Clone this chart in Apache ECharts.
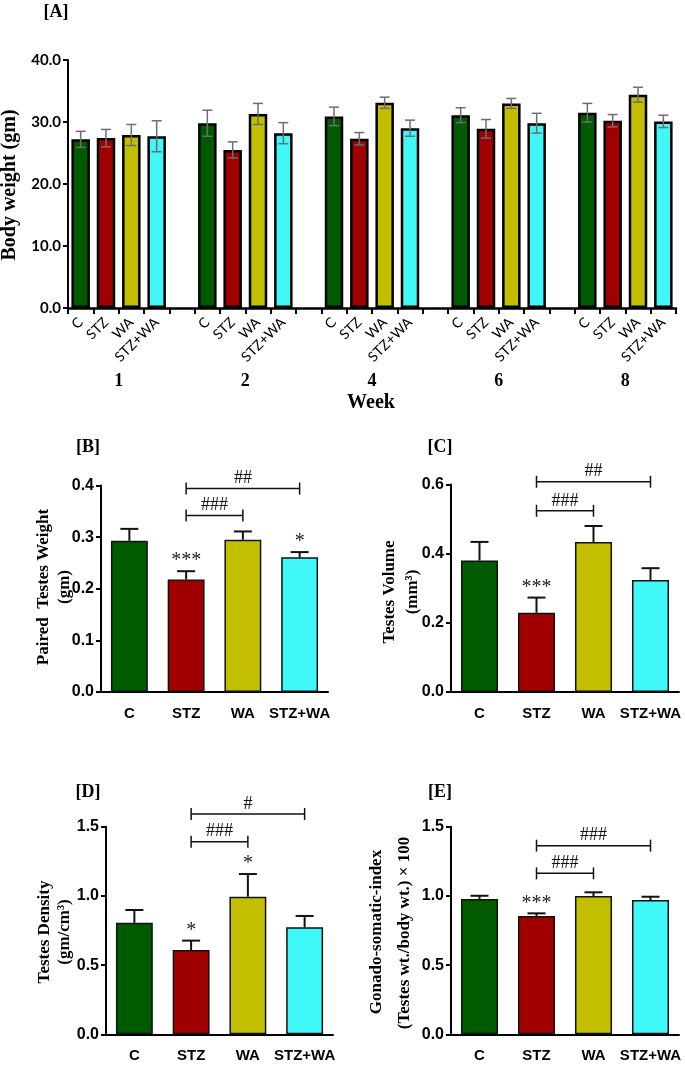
<!DOCTYPE html>
<html><head><meta charset="utf-8">
<script src="https://cdn.jsdelivr.net/npm/echarts@6.0.0/dist/echarts.min.js"></script>
<style>html,body{margin:0;padding:0;background:#fff}#chart{width:685px;height:1066px}</style>
</head><body><div id="chart"></div>
<script>
// ---------- data ----------
const weeks = ['1', '2', '4', '6', '8'];
const groups = ['C', 'STZ', 'WA', 'STZ+WA'];
const groupColors = ['#005a00', '#a00000', '#c2bf00', '#40f8f8'];

// Panel A: body weight (gm) per week
const bwC      = [27.2, 29.8, 30.9, 31.1, 31.5];
const bwSTZ    = [27.4, 25.5, 27.3, 28.9, 30.2];
const bwWA     = [27.9, 31.3, 33.1, 33.0, 34.4];
const bwSTZWA  = [27.7, 28.2, 29.0, 29.8, 30.1];
const bwErrC     = [1.3, 2.1, 1.5, 1.2, 1.5];
const bwErrSTZ   = [1.4, 1.3, 1.0, 1.5, 1.0];
const bwErrWA    = [1.7, 1.7, 0.9, 0.8, 1.2];
const bwErrSTZWA = [2.5, 1.7, 1.3, 1.6, 1.0];

// Panel B: paired testes weight (gm)
const twMean = [0.293, 0.218, 0.295, 0.261];
const twErr  = [0.023, 0.016, 0.016, 0.010];
const twSig  = ['', '***', '', '*'];
const twBrackets = [[1, 3, 0.394, '##'], [1, 2, 0.342, '###']];

// Panel C: testes volume (mm3)
const tvMean = [0.380, 0.229, 0.434, 0.324];
const tvErr  = [0.054, 0.044, 0.046, 0.034];
const tvSig  = ['', '***', '', ''];
const tvBrackets = [[1, 3, 0.608, '##'], [1, 2, 0.524, '###']];

// Panel D: testes density (gm/cm3)
const tdMean = [0.806, 0.609, 0.994, 0.773];
const tdErr  = [0.092, 0.068, 0.164, 0.082];
const tdSig  = ['', '*', '*', ''];
const tdBrackets = [[1, 3, 1.592, '#'], [1, 2, 1.392, '###']];

// Panel E: gonado-somatic index
const gsiMean = [0.978, 0.855, 0.999, 0.970];
const gsiErr  = [0.023, 0.019, 0.027, 0.024];
const gsiSig  = ['', '***', '', ''];
const gsiBrackets = [[1, 3, 1.363, '###'], [1, 2, 1.163, '###']];

// ---------- build ----------
const SERIF = '"Liberation Serif", "Times New Roman", serif';
const NARROW = '"Liberation Sans", Arial, sans-serif';
const CAL = 'Lato, Carlito, Calibri, sans-serif';

const bwMeans = [bwC, bwSTZ, bwWA, bwSTZWA];
const bwErrs = [bwErrC, bwErrSTZ, bwErrWA, bwErrSTZWA];
const slotLabels = [], barData = [], errData = [];
weeks.forEach((w, wi) => {
  groups.forEach((g, gi) => {
    const idx = slotLabels.length;
    slotLabels.push(g);
    barData.push({ value: bwMeans[gi][wi], itemStyle: { color: groupColors[gi] } });
    errData.push([idx, bwMeans[gi][wi], bwErrs[gi][wi]]);
  });
  if (wi < weeks.length - 1) { slotLabels.push(''); barData.push('-'); }
});

function errRender(color, lw, capHalf, both) {
  return function (params, api) {
    const x = api.value(0), m = api.value(1), e = api.value(2);
    const top = api.coord([x, m + e]);
    const bot = api.coord([x, both ? m - e : m]);
    const st = { stroke: color, lineWidth: lw };
    const ch = [
      { type: 'line', shape: { x1: top[0], y1: top[1], x2: bot[0], y2: bot[1] }, style: st },
      { type: 'line', shape: { x1: top[0] - capHalf, y1: top[1], x2: top[0] + capHalf, y2: top[1] }, style: st }
    ];
    if (both) ch.push({ type: 'line', shape: { x1: bot[0] - capHalf, y1: bot[1], x2: bot[0] + capHalf, y2: bot[1] }, style: st });
    return { type: 'group', children: ch };
  };
}

function bracketRender(list) {
  return function (params, api) {
    const d = list[params.dataIndex];
    const p1 = api.coord([d[0], d[2]]), p2 = api.coord([d[1], d[2]]);
    const st = { stroke: '#111', lineWidth: 1.5 };
    return {
      type: 'group', children: [
        { type: 'line', shape: { x1: p1[0], y1: p1[1], x2: p2[0], y2: p2[1] }, style: st },
        { type: 'line', shape: { x1: p1[0], y1: p1[1] - 6, x2: p1[0], y2: p1[1] + 6 }, style: st },
        { type: 'line', shape: { x1: p2[0], y1: p2[1] - 6, x2: p2[0], y2: p2[1] + 6 }, style: st },
        { type: 'text', x: (p1[0] + p2[0]) / 2, y: p1[1] - 10,
          style: { text: d[3], textAlign: 'center', textVerticalAlign: 'middle', font: '18px ' + SERIF, fill: '#111' } }
      ]
    };
  };
}

function sigRender(sig) {
  return function (params, api) {
    const i = api.value(0), top = api.value(1);
    const p = api.coord([i, top]);
    return { type: 'text', x: p[0], y: p[1] - 10,
      style: { text: sig[i], textAlign: 'center', textVerticalAlign: 'middle', font: '20px ' + SERIF, fill: '#222' } };
  };
}

const grids = [
  { left: 68, top: 60, width: 608, height: 248 },
  { left: 101, top: 485.5, width: 227, height: 206.5 },
  { left: 451, top: 484.5, width: 228, height: 207.5 },
  { left: 106, top: 826.7, width: 227, height: 207.6 },
  { left: 451, top: 826.7, width: 228, height: 207.6 }
];

function yAx(gridIndex, min, max, interval, font, size) {
  return {
    type: 'value', gridIndex, min, max, interval,
    axisLine: { show: true, lineStyle: { color: '#000', width: 2 } },
    axisTick: { show: true, length: 5, lineStyle: { color: '#000', width: 2 } },
    splitLine: { show: false },
    axisLabel: { color: '#000', margin: 7, fontFamily: font, fontWeight: 'bold', fontSize: size, formatter: v => v.toFixed(1) }
  };
}
function xCat(gridIndex) {
  return {
    type: 'category', gridIndex, data: groups,
    axisLine: { lineStyle: { color: '#000', width: 2 } },
    axisTick: { show: false },
    axisLabel: { interval: 0, color: '#000', fontWeight: 'bold', fontSize: 15, fontFamily: NARROW, margin: 14 }
  };
}

const panels = [
  { mean: twMean, err: twErr, sig: twSig, br: twBrackets },
  { mean: tvMean, err: tvErr, sig: tvSig, br: tvBrackets },
  { mean: tdMean, err: tdErr, sig: tdSig, br: tdBrackets },
  { mean: gsiMean, err: gsiErr, sig: gsiSig, br: gsiBrackets }
];

const series = [
  { type: 'bar', xAxisIndex: 0, yAxisIndex: 0, data: barData, barWidth: '73%',
    itemStyle: { borderColor: '#000', borderWidth: 2.5 } },
  { type: 'custom', xAxisIndex: 0, yAxisIndex: 0, data: errData, z: 5,
    renderItem: errRender('#6e6e6e', 1.5, 5, true) }
];
panels.forEach((p, k) => {
  const xi = k + 2, yi = k + 1;
  series.push({ type: 'bar', xAxisIndex: xi, yAxisIndex: yi, barWidth: '65%',
    data: p.mean.map((v, i) => ({ value: v, itemStyle: { color: groupColors[i] } })),
    itemStyle: { borderColor: '#111', borderWidth: 1.5 } });
  series.push({ type: 'custom', xAxisIndex: xi, yAxisIndex: yi, z: 5,
    data: p.mean.map((v, i) => [i, v, p.err[i]]), renderItem: errRender('#111', 2, 9, false) });
  series.push({ type: 'custom', xAxisIndex: xi, yAxisIndex: yi, z: 6, clip: false,
    data: p.mean.map((v, i) => [i, v + p.err[i]]).filter((d, i) => p.sig[i] !== ''),
    renderItem: sigRender(p.sig) });
  series.push({ type: 'custom', xAxisIndex: xi, yAxisIndex: yi, z: 6, clip: false,
    data: p.br.map(d => [d[0], d[2]]), renderItem: bracketRender(p.br) });
});

function gText(text, x, y, size, rot, weight) {
  return { type: 'text', x, y, rotation: rot ? Math.PI / 2 : 0, z: 10,
    style: { text, textAlign: 'center', textVerticalAlign: 'middle', fill: '#000',
      font: (weight || 'bold') + ' ' + size + 'px ' + SERIF } };
}

const option = {
  animation: false,
  backgroundColor: '#fff',
  grid: grids,
  xAxis: [
    { type: 'category', gridIndex: 0, data: slotLabels,
      axisLine: { lineStyle: { color: '#000', width: 2.5 } },
      axisTick: { show: true, interval: 0, length: 6, lineStyle: { color: '#000', width: 2 } },
      axisLabel: { interval: 0, rotate: 45, color: '#000', fontSize: 14, fontFamily: CAL, margin: 12 } },
    { type: 'value', gridIndex: 0, min: 0, max: slotLabels.length, interval: 1, position: 'bottom', offset: 56,
      axisLine: { show: false }, axisTick: { show: false }, splitLine: { show: false },
      axisLabel: { color: '#000', fontFamily: SERIF, fontWeight: 'bold', fontSize: 18, margin: 8,
        formatter: v => { const k = (v - 2) / 5; return (Number.isInteger(k) && k >= 0 && k < weeks.length) ? weeks[k] : ''; } } },
    xCat(1), xCat(2), xCat(3), xCat(4)
  ],
  yAxis: [
    yAx(0, 0, 40, 10, CAL, 15),
    yAx(1, 0, 0.4, 0.1, NARROW, 16),
    yAx(2, 0, 0.6, 0.2, NARROW, 16),
    yAx(3, 0, 1.5, 0.5, NARROW, 16),
    yAx(4, 0, 1.5, 0.5, NARROW, 16)
  ],
  series,
  graphic: [
    gText('[A]', 56, 12, 18),
    gText('Body weight (gm)', 10, 185, 20, true),
    gText('Week', 371, 403, 20),
    gText('[B]', 88, 447, 18),
    gText('Paired  Testes Weight', 44, 587, 17, true),
    gText('(gm)', 65, 587, 17, true),
    gText('[C]', 440, 447, 18),
    gText('Testes Volume', 390, 592, 17, true),
    gText('(mm³)', 413, 592, 17, true),
    gText('[D]', 88, 792, 18),
    gText('Testes Density', 45, 932, 17, true),
    gText('(gm/cm³)', 65, 932, 17, true),
    gText('[E]', 440, 792, 18),
    gText('Gonado-somatic-index', 377, 932, 17, true),
    gText('(Testes wt./body wt.) × 100', 405, 933, 17, true)
  ]
};

const chart = echarts.init(document.getElementById('chart'), null, { renderer: 'canvas' });
chart.setOption(option);
</script>
</body></html>
